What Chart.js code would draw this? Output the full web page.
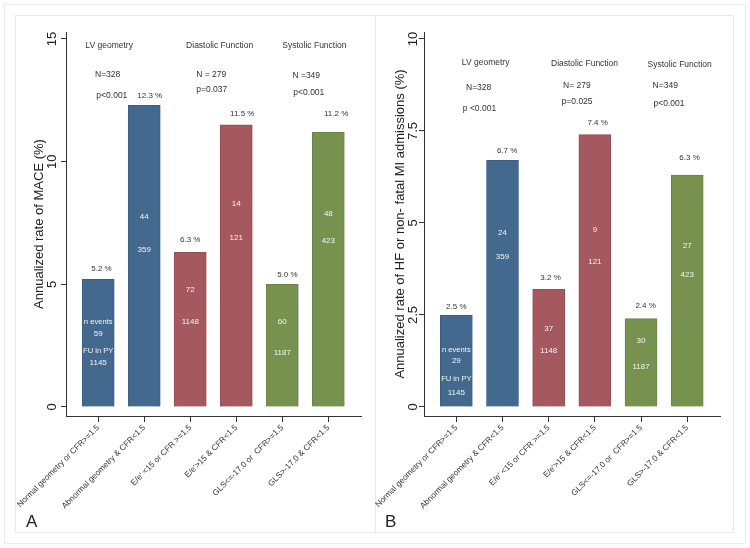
<!DOCTYPE html>
<html lang="en">
<head>
    <meta charset="UTF-8">
    <title>Annualized event rates</title>
    <style>
        body {
            margin: 0;
            padding: 0;
            background: #fff;
            font-family: Arial, "Liberation Sans", sans-serif;
        }

        .page {
            position: relative;
            width: 750px;
            height: 548px;
            background: #fff;
        }

        .outer {
            position: absolute;
            left: 4px;
            top: 4px;
            width: 740px;
            height: 538px;
            border: 1px solid #ececec;
        }

        .inner {
            position: absolute;
            left: 15px;
            top: 15px;
            width: 717px;
            height: 516px;
            border: 1px solid #e8e8e8;
        }

        .divider {
            position: absolute;
            left: 375px;
            top: 15px;
            width: 1px;
            height: 517px;
            background: #e8e8e8;
        }

        canvas {
            position: absolute;
            top: 0;
        }

        .panel-tag {
            position: absolute;
            font-size: 17px;
            color: #222;
        }
    </style>
</head>
<body>
    <div class="page">
        <div class="outer"></div>
        <div class="inner"></div>
        <div class="divider"></div>
        <canvas id="chart-a" width="375" height="548" style="left:0"></canvas>
        <canvas id="chart-b" width="375" height="548" style="left:375px"></canvas>
        <div class="panel-tag" style="left:26px; top:512px;">A</div>
        <div class="panel-tag" style="left:385px; top:512px;">B</div>
    </div>

    <script src="https://cdn.jsdelivr.net/npm/chart.js"></script>
    <script>
        const categories = [
            'Normal geometry or CFR>=1.5',
            'Abnormal geometry & CFR<1.5',
            "E/e' <15 or CFR >=1.5",
            "E/e'>15 & CFR<1.5",
            'GLS<=-17.0 or  CFR>=1.5',
            'GLS>-17.0 & CFR<1.5'
        ];
        const groups = ['LV geometry', 'Diastolic Function', 'Systolic Function'];

        // panel A: MACE
        const rateA = [5.2, 12.3, 6.3, 11.5, 5.0, 11.2];
        const eventsA = [59, 44, 72, 14, 60, 48];
        const followUpA = [1145, 359, 1148, 121, 1187, 423];
        const nTextA = ['N=328', 'N = 279', 'N =349'];
        const pTextA = ['p<0.001', 'p=0.037', 'p<0.001'];

        // panel B: HF or non-fatal MI
        const rateB = [2.5, 6.7, 3.2, 7.4, 2.4, 6.3];
        const eventsB = [29, 24, 37, 9, 30, 27];
        const followUpB = [1145, 359, 1148, 121, 1187, 423];
        const nTextB = ['N=328', 'N= 279', 'N=349'];
        const pTextB = ['p <0.001', 'p=0.025', 'p<0.001'];

        const ticksA = [0, 5, 10, 15];
        const ticksB = [0, 2.5, 5, 7.5, 10];

        const barColors = ['#436a8e', '#436a8e', '#a5585e', '#a5585e', '#77914f', '#77914f'];
        const barEdges = ['#3a5e80', '#3a5e80', '#974d53', '#974d53', '#6a8445', '#6a8445'];

        // where the notes sit, in axis units
        const layoutA = {
            pctX: [0.07, 0.12, 0, 0.13, 0.11, 0.17],
            pctY: [5.63, 12.68, 6.81, 11.94, 5.38, 11.94],
            evtY: [2.98, 7.75, 4.77, 8.28, 3.47, 7.87],
            fuY: [1.79, 6.40, 3.47, 6.89, 2.20, 6.77],
            evtHeadY: 3.47,
            fuHeadY: 2.28,
            headX: [-0.28, 1.91, 4.0], headY: [14.71, 14.71, 14.71],
            nX: [-0.07, 2.13, 4.22], nY: [13.53, 13.53, 13.49],
            pX: [-0.04, 2.13, 4.24], pY: [12.68, 12.92, 12.80]
        };
        const layoutB = {
            pctX: [0, 0.1, 0.04, 0.06, 0.1, 0.05],
            pctY: [2.72, 6.96, 3.51, 7.72, 2.74, 6.77],
            evtY: [1.25, 4.73, 2.12, 4.81, 1.79, 4.38],
            fuY: [0.38, 4.08, 1.52, 3.94, 1.09, 3.59],
            evtHeadY: 1.55,
            fuHeadY: 0.76,
            headX: [0.12, 2.05, 4.14], headY: [9.35, 9.32, 9.29],
            nX: [0.21, 2.31, 4.25], nY: [8.67, 8.72, 8.72],
            pX: [0.14, 2.28, 4.27], pY: [8.10, 8.29, 8.23]
        };

        const FONT = 'Arial, "Liberation Sans", sans-serif';

        const notesPlugin = {
            id: 'notes',
            afterDatasetsDraw(chart, args, opts) {
                const { ctx, scales: { x, y } } = chart;
                const L = opts.layout;
                const px = v => x.getPixelForValue(v);
                const py = v => y.getPixelForValue(v);
                ctx.save();
                ctx.textBaseline = 'middle';

                // group headers, N and p
                ctx.font = '8.5px ' + FONT;
                ctx.fillStyle = '#333';
                ctx.textAlign = 'left';
                groups.forEach((g, i) => {
                    ctx.fillText(g, px(L.headX[i]), py(L.headY[i]));
                    ctx.fillText(opts.nText[i], px(L.nX[i]), py(L.nY[i]));
                    ctx.fillText(opts.pText[i], px(L.pX[i]), py(L.pY[i]));
                });

                // rate above each bar
                ctx.font = '8px ' + FONT;
                ctx.textAlign = 'center';
                opts.rates.forEach((r, i) => {
                    ctx.fillText(r.toFixed(1) + ' %', px(i + L.pctX[i]), py(L.pctY[i]));
                });

                // counts inside bars
                ctx.font = '8px ' + FONT;
                ctx.fillStyle = '#f4f4f4';
                opts.events.forEach((e, i) => {
                    ctx.fillText(String(e), px(i), py(L.evtY[i]));
                    ctx.fillText(String(opts.followUp[i]), px(i), py(L.fuY[i]));
                });
                ctx.font = '7.6px ' + FONT;
                ctx.fillText('n events', px(0), py(L.evtHeadY));
                ctx.fillText('FU in PY', px(0), py(L.fuHeadY));
                ctx.restore();
            }
        };

        function buildPanel(id, p) {
            new Chart(document.getElementById(id), {
                type: 'bar',
                data: {
                    datasets: [{
                        data: p.rates.map((v, i) => ({ x: i, y: v })),
                        backgroundColor: barColors,
                        borderColor: barEdges,
                        borderWidth: 1,
                        barThickness: 32
                    }]
                },
                options: {
                    responsive: false,
                    animation: false,
                    layout: { padding: { left: p.padLeft, right: p.padRight, top: 32, bottom: 0 } },
                    plugins: {
                        legend: { display: false },
                        tooltip: { enabled: false },
                        notes: {
                            layout: p.layout, rates: p.rates, events: p.events,
                            followUp: p.followUp, nText: p.nText, pText: p.pText
                        }
                    },
                    scales: {
                        x: {
                            type: 'linear',
                            offset: false,
                            min: -0.7,
                            max: 5.71,
                            afterBuildTicks: s => { s.ticks = categories.map((c, i) => ({ value: i })); },
                            afterFit: s => { s.height = 132; s.paddingLeft = 0; s.paddingRight = 0; },
                            grid: { offset: false, drawOnChartArea: false, tickLength: 6, color: '#333' },
                            border: { display: true, color: '#333' },
                            ticks: {
                                autoSkip: false,
                                minRotation: 45,
                                maxRotation: 45,
                                padding: 1,
                                color: '#333',
                                font: { family: FONT, size: 8.2 },
                                callback: v => categories[v]
                            }
                        },
                        y: {
                            min: p.yMin,
                            max: p.yMax,
                            afterBuildTicks: s => { s.ticks = p.ticks.map(v => ({ value: v })); },
                            afterFit: s => { s.width = p.yWidth; },
                            grid: { drawOnChartArea: false, tickLength: 5, color: '#333' },
                            border: { display: true, color: '#333' },
                            ticks: {
                                minRotation: 90,
                                maxRotation: 90,
                                crossAlign: 'center',
                                padding: p.tickPad,
                                color: '#222',
                                font: { family: FONT, size: 13 }
                            },
                            title: {
                                display: true,
                                text: p.title,
                                color: '#222',
                                font: { family: FONT, size: 13 },
                                padding: { top: p.titlePad, bottom: 0 }
                            }
                        }
                    }
                },
                plugins: [notesPlugin]
            });
        }

        buildPanel('chart-a', {
            rates: rateA, events: eventsA, followUp: followUpA,
            nText: nTextA, pText: pTextA, layout: layoutA,
            ticks: ticksA, yMin: -0.367, yMax: 15.285,
            title: 'Annualized rate of MACE (%)',
            padLeft: 28, padRight: 14, yWidth: 38, tickPad: 1, titlePad: 4
        });

        buildPanel('chart-b', {
            rates: rateB, events: eventsB, followUp: followUpB,
            nText: nTextB, pText: pTextB, layout: layoutB,
            ticks: ticksB, yMin: -0.245, yMax: 10.19,
            title: 'Annualized rate of HF or non- fatal MI admissions (%)',
            padLeft: 14, padRight: 30, yWidth: 35, tickPad: -3, titlePad: 4
        });
    </script>
</body>
</html>
